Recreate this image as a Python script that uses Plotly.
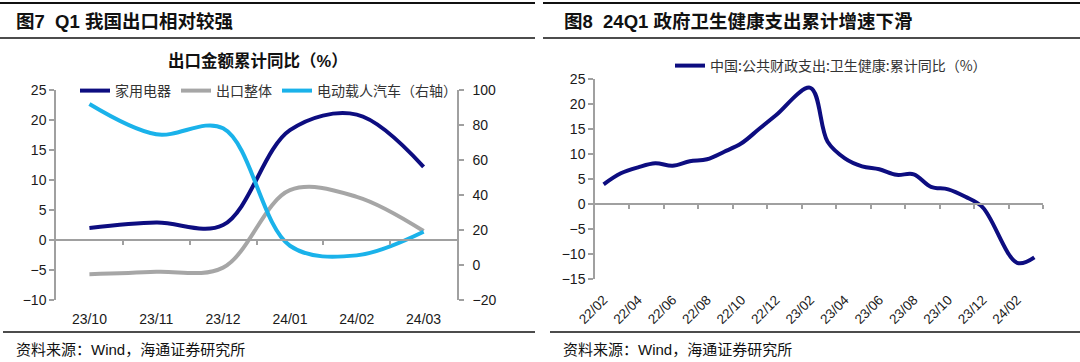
import plotly.graph_objects as go

# ---------------- data ----------------
months_l = ["23/10", "23/11", "23/12", "24/01", "24/02", "24/03"]
home_appliances = [2.0, 2.9, 2.5, 18.3, 20.9, 12.2]
exports_total = [-5.7, -5.3, -4.6, 8.3, 7.2, 1.5]
nev_passenger = [92.0, 74.7, 78.1, 11.0, 5.5, 19.0]

months_r = ["22/02", "22/03", "22/04", "22/05", "22/06", "22/07", "22/08", "22/09",
            "22/10", "22/11", "22/12", "23/01", "23/02", "23/03", "23/04", "23/05",
            "23/06", "23/07", "23/08", "23/09", "23/10", "23/11", "23/12", "24/01",
            "24/02", "24/03"]
health_exp = [4.0, 6.2, 7.4, 8.2, 7.7, 8.6, 9.0, 10.5, 12.2, 15.0, 17.8, None,
              23.3, 12.5, 9.2, 7.6, 7.0, 5.9, 6.0, 3.5, 3.0, 1.5, -0.6, None,
              -11.7, -10.6]

W, H = 1080, 362
NAVY = "#0D0D80"
GRAY = "#A6A6A6"
CYAN = "#1AB2EA"
AX = "#A0A0A0"
TXT = "#1a1a1a"
LAT = "Arial, Liberation Sans, Noto Sans CJK SC, sans-serif"
CJK = "Noto Sans CJK SC, sans-serif"


def px(x):
    return x / W


def py(y):
    return 1 - y / H


# layout geometry
xl_dom = [px(56), px(457)]
yl_dom = [py(300), py(90)]
yl_rng = [-10, 25]
xr_dom = [px(595), px(1043)]
yr_dom = [py(279.3), py(79.3)]
yr_rng = [-15, 25]
zero_l = yl_dom[0] + (yl_dom[1] - yl_dom[0]) * (0 - yl_rng[0]) / (yl_rng[1] - yl_rng[0])
zero_r = yr_dom[0] + (yr_dom[1] - yr_dom[0]) * (0 - yr_rng[0]) / (yr_rng[1] - yr_rng[0])

fig = go.Figure()

lw = 4
fig.add_trace(go.Scatter(x=months_l, y=home_appliances, name="家用电器", mode="lines",
                         line=dict(color=NAVY, width=lw, shape="spline", smoothing=1),
                         xaxis="x", yaxis="y", legend="legend"))
fig.add_trace(go.Scatter(x=months_l, y=exports_total, name="出口整体", mode="lines",
                         line=dict(color=GRAY, width=lw, shape="spline", smoothing=1),
                         xaxis="x", yaxis="y", legend="legend"))
fig.add_trace(go.Scatter(x=months_l, y=nev_passenger, name="电动载人汽车（右轴）", mode="lines",
                         line=dict(color=CYAN, width=lw, shape="spline", smoothing=1),
                         xaxis="x", yaxis="y2", legend="legend"))
# helper (empty) traces so the zero-line tick axes are drawn
fig.add_trace(go.Scatter(x=[], y=[], xaxis="x3", yaxis="y", showlegend=False, hoverinfo="skip"))

fig.add_trace(go.Scatter(x=months_r, y=health_exp, name="中国:公共财政支出:卫生健康:累计同比（%）",
                         mode="lines", connectgaps=True,
                         line=dict(color=NAVY, width=lw, shape="spline", smoothing=1),
                         xaxis="x2", yaxis="y3", legend="legend2"))
fig.add_trace(go.Scatter(x=[], y=[], xaxis="x4", yaxis="y3", showlegend=False, hoverinfo="skip"))

tickfont = dict(family=LAT, size=14, color=TXT)

fig.update_layout(
    width=W, height=H,
    margin=dict(l=0, r=0, t=0, b=0, autoexpand=False),
    paper_bgcolor="white", plot_bgcolor="rgba(0,0,0,0)",
    xaxis=dict(domain=xl_dom, anchor="y", type="category", range=[-0.5, 5.5],
               showline=False, ticks="", showgrid=False, zeroline=False,
               tickfont=tickfont, ticklabelstandoff=9),
    yaxis=dict(domain=yl_dom, anchor="x", range=yl_rng, dtick=5, showgrid=False, zeroline=False,
               showline=True, linecolor=AX, linewidth=1.5, ticks="outside", ticklen=5,
               tickcolor=AX, tickwidth=1.5, tickfont=tickfont),
    yaxis2=dict(overlaying="y", anchor="x", side="right", range=[-20, 100], dtick=20,
                showgrid=False, zeroline=False, showline=True, linecolor=AX, linewidth=1.5,
                ticks="outside", ticklen=5, tickcolor=AX, tickwidth=1.5, tickfont=tickfont,
                ticklabelstandoff=6),
    xaxis3=dict(overlaying="x", anchor="free", position=zero_l, range=[-0.5, 5.5],
                tickvals=[0.5, 1.5, 2.5, 3.5, 4.5], ticks="outside", ticklen=4, tickwidth=1.5,
                tickcolor=AX, showticklabels=False, showline=True, linecolor=AX, linewidth=1.5,
                showgrid=False, zeroline=False),
    xaxis2=dict(domain=xr_dom, anchor="y3", type="category", range=[-0.5, 25.5],
                tickvals=months_r[::2], tickangle=-45, showline=False, ticks="",
                showgrid=False, zeroline=False, tickfont=dict(family=LAT, size=13.5, color=TXT),
                ticklabelstandoff=9),
    yaxis3=dict(domain=yr_dom, anchor="x2", range=yr_rng, dtick=5, showgrid=False, zeroline=False,
                showline=True, linecolor=AX, linewidth=1.5, ticks="outside", ticklen=5,
                tickcolor=AX, tickwidth=1.5, tickfont=tickfont),
    xaxis4=dict(overlaying="x2", anchor="free", position=zero_r, range=[-0.5, 25.5],
                tickvals=[1.5 + 2 * k for k in range(13)], ticks="outside", ticklen=4,
                tickwidth=1.5, tickcolor=AX, showticklabels=False, showline=True,
                linecolor=AX, linewidth=1.5, showgrid=False, zeroline=False),
    legend=dict(orientation="h", x=px(75), xanchor="left", y=py(91), yanchor="middle",
                bgcolor="rgba(0,0,0,0)", font=dict(family=CJK, size=14, color="#333"),
                itemwidth=30, tracegroupgap=0),
    legend2=dict(orientation="h", x=px(670), xanchor="left", y=py(66), yanchor="middle",
                 bgcolor="rgba(0,0,0,0)", font=dict(family=CJK, size=14, color="#333"),
                 itemwidth=30),
    showlegend=True,
)

# titles, subtitle, source notes
ann = [
    dict(text="<b>图7  Q1 我国出口相对较强</b>", x=px(14), y=py(21), size=18.5),
    dict(text="<b>图8  24Q1 政府卫生健康支出累计增速下滑</b>", x=px(562), y=py(21), size=18.5),
    dict(text="资料来源：Wind，海通证券研究所", x=px(14), y=py(349), size=15),
    dict(text="资料来源：Wind，海通证券研究所", x=px(561), y=py(349), size=15),
]
for a in ann:
    fig.add_annotation(text=a["text"], x=a["x"], y=a["y"], xref="paper", yref="paper",
                       xanchor="left", yanchor="middle", showarrow=False,
                       font=dict(family=LAT, size=a["size"], color="#111"))
fig.add_annotation(text="<b>出口金额累计同比（%）</b>", x=px(258), y=py(60), xref="paper", yref="paper",
                   xanchor="center", yanchor="middle", showarrow=False,
                   font=dict(family=LAT, size=16.5, color="#111"))

# panel rules
rules = [
    (0, 535, 3, 2.2), (0, 535, 38, 1.5), (3, 535, 332, 1.5),
    (543, 1080, 3, 2.2), (543, 1080, 38, 1.5), (550, 1080, 332, 1.5),
]
for x0, x1, yy, w in rules:
    fig.add_shape(type="line", xref="paper", yref="paper", x0=px(x0), x1=px(x1),
                  y0=py(yy), y1=py(yy), line=dict(color="#111", width=w))

fig.write_html("out.html", config={"displayModeBar": False},
               post_script="document.body.style.margin='0';document.body.style.overflow='hidden';")
